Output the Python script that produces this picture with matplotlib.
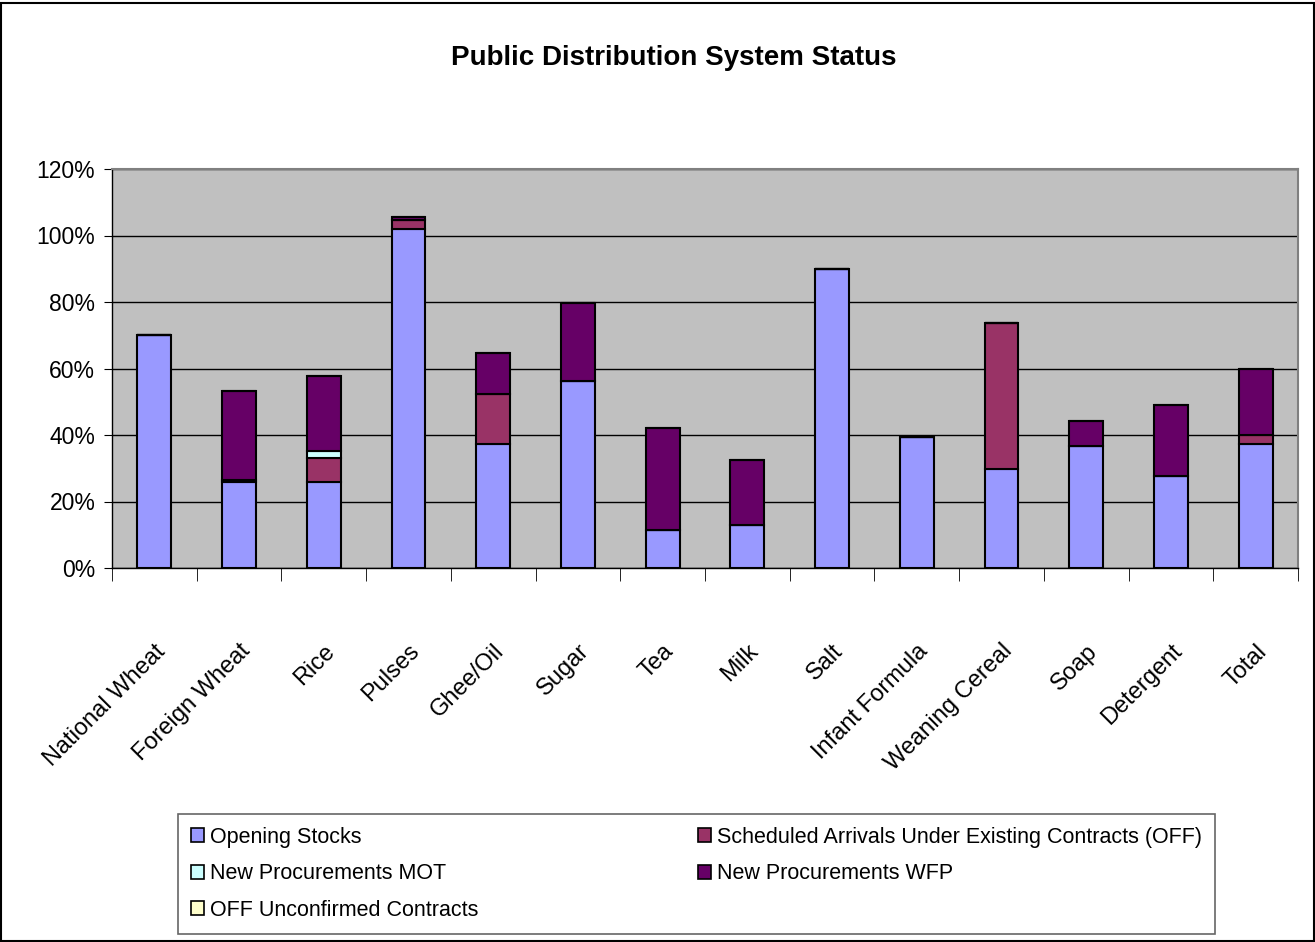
import matplotlib
matplotlib.use("Agg")
import matplotlib.pyplot as plt
import numpy as np
from matplotlib.patches import Patch, Rectangle
from matplotlib.ticker import FixedLocator, FuncFormatter

plt.rcParams["font.family"] = ["Liberation Sans", "DejaVu Sans"]

categories = ["National Wheat", "Foreign Wheat", "Rice", "Pulses", "Ghee/Oil", "Sugar",
              "Tea", "Milk", "Salt", "Infant Formula", "Weaning Cereal", "Soap",
              "Detergent", "Total"]

# values in percent
opening_stocks = [70.0, 25.8, 25.8, 102.0, 37.3, 56.3, 11.4, 12.8, 89.8, 39.4, 29.8, 36.7, 27.6, 37.4]
scheduled_off = [0.0, 0.6, 7.2, 2.7, 15.0, 0.0, 0.0, 0.0, 0.0, 0.0, 43.8, 0.0, 0.0, 2.6]
new_mot = [0.0, 0.0, 2.2, 0.0, 0.0, 0.0, 0.0, 0.0, 0.0, 0.0, 0.0, 0.0, 0.0, 0.0]
new_wfp = [0.0, 26.7, 22.6, 1.0, 12.4, 23.3, 30.8, 19.8, 0.0, 0.0, 0.0, 7.4, 21.3, 19.9]
off_unconfirmed = [0.0] * 14

series = [
    ("Opening Stocks", opening_stocks, "#9999FF"),
    ("Scheduled Arrivals Under Existing Contracts (OFF)", scheduled_off, "#993366"),
    ("New Procurements MOT", new_mot, "#CCFFFF"),
    ("New Procurements WFP", new_wfp, "#660066"),
    ("OFF Unconfirmed Contracts", off_unconfirmed, "#FFFFCC"),
]

fig = plt.figure(figsize=(13.15, 9.42), dpi=100)
ax = fig.add_axes([112 / 1315, 1 - 568 / 942, (1298 - 112) / 1315, (568 - 169) / 942])
ax.set_facecolor("#C0C0C0")

x = np.arange(len(categories))
bottom = np.zeros(len(categories))
handles = {}
for name, vals, color in series:
    vals = np.array(vals)
    ax.bar(x, vals, 0.4, bottom=bottom, color=color, edgecolor="black", linewidth=1.5, zorder=3)
    bottom += vals
    handles[name] = Patch(facecolor=color, edgecolor="black", linewidth=1.2)

ax.set_ylim(0, 120)
ax.set_xlim(-0.5, len(categories) - 0.5)
ax.set_yticks(np.arange(0, 121, 20))
ax.yaxis.set_major_formatter(FuncFormatter(lambda v, p: f"{v:.0f}%"))
ax.yaxis.grid(True, color="black", linewidth=1)
ax.set_axisbelow(True)
ax.tick_params(axis="y", labelsize=16.5, length=6, direction="out", pad=6)

ax.set_xticks(x)
ax.set_xticklabels(categories, rotation=45, ha="right", rotation_mode="anchor", fontsize=17)
ax.tick_params(axis="x", which="major", length=0, pad=52)
ax.xaxis.set_minor_locator(FixedLocator(np.arange(-0.5, len(categories), 1.0)))
ax.tick_params(axis="x", which="minor", length=9, direction="out")

for s in ["top", "right"]:
    ax.spines[s].set_color("#808080")
    ax.spines[s].set_linewidth(1.5)
for s in ["left", "bottom"]:
    ax.spines[s].set_color("black")
    ax.spines[s].set_linewidth(1)

fig.text(674 / 1315, 1 - 58 / 942, "Public Distribution System Status", ha="center", va="center",
         fontsize=20, fontweight="bold")

order = ["Opening Stocks", "New Procurements MOT", "OFF Unconfirmed Contracts",
         "Scheduled Arrivals Under Existing Contracts (OFF)", "New Procurements WFP"]
leg = fig.legend([handles[n] for n in order], order, ncol=2, mode="expand",
                 loc="upper left",
                 bbox_to_anchor=(178 / 1315, 1 - 938 / 942, (1215 - 178) / 1315, (938 - 814) / 942),
                 fontsize=15.5, frameon=True, fancybox=False, handlelength=0.6, handleheight=0.6,
                 handletextpad=0.3, labelspacing=0.72, borderpad=0.6, borderaxespad=0)
leg.get_frame().set_edgecolor("#404040")
leg.get_frame().set_linewidth(1.2)

fig.patches.append(Rectangle((0.001, 0.001), 0.998, 0.996, transform=fig.transFigure,
                             fill=False, edgecolor="black", linewidth=1.5))

fig.savefig("out.png", dpi=100)
